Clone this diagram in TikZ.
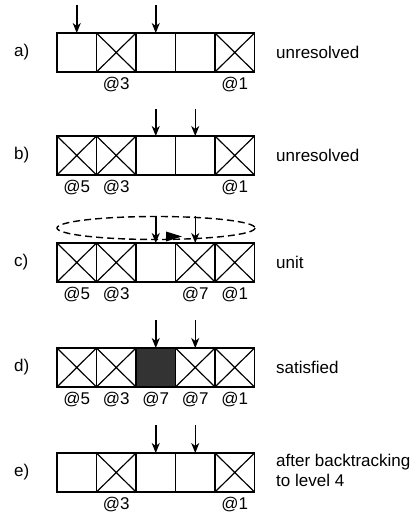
\documentclass[tikz,border=0pt]{standalone}
\usepackage{fontspec}
\setmainfont{Liberation Sans}
\usetikzlibrary{arrows.meta}
\tikzset{
  cell/.style={draw, line width=1.7pt, minimum width=39.5pt, minimum height=39pt, inner sep=0pt, outer sep=0pt},
  xline/.style={line width=1.2pt},
  arr/.style={line width=1.5pt, -{Stealth[length=10pt, width=8pt, inset=3pt]}},
  lbl/.style={font=\fontsize{17}{20}\selectfont, inner sep=0pt},
  darkcell/.style={cell, fill=black!80},
}
\newcommand{\mkrow}[2]{% #1 row name, #2 top y
  \foreach \i/\cx in {1/76.75,2/116.25,3/155.75,4/195.25,5/234.75}{
    \node[cell] (#1\i) at (\cx,#2+19.5) {};
  }
}
\newcommand{\xcell}[1]{\draw[xline] (#1.north west) -- (#1.south east) (#1.north east) -- (#1.south west);}
\begin{document}
\begin{tikzpicture}[x=1pt,y=-1pt]
\useasboundingbox (0,0) rectangle (418,518);
% row a
\mkrow{a}{33}
\xcell{a2}\xcell{a5}
\node[lbl,anchor=west] (la) at (14,52.5) {a)};
\node[lbl,anchor=west] (sa) at (276,52.5) {unresolved};
\node[lbl] (a2l) at (116.25,85) {@3};
\node[lbl] (a5l) at (234.75,85) {@1};
\coordinate (a1t) at (76.75,5);
\coordinate (a3t) at (155.75,5);
\draw[arr] (a1t) -- (a1.north);
\draw[arr] (a3t) -- (a3.north);
% row b
\mkrow{b}{136}
\xcell{b1}\xcell{b2}\xcell{b5}
\node[lbl,anchor=west] (lb) at (14,155.5) {b)};
\node[lbl,anchor=west] (sb) at (276,155.5) {unresolved};
\node[lbl] (b1l) at (76.75,188) {@5};
\node[lbl] (b2l) at (116.25,188) {@3};
\node[lbl] (b5l) at (234.75,188) {@1};
\coordinate (b3t) at (155.75,109);
\coordinate (b4t) at (195.25,109);
\draw[arr] (b3t) -- (b3.north);
\draw[arr] (b4t) -- (b4.north);
% row c
\mkrow{c}{243}
\xcell{c1}\xcell{c2}\xcell{c4}\xcell{c5}
\node[lbl,anchor=west] (lc) at (14,262.5) {c)};
\node[lbl,anchor=west] (sc) at (276,262.5) {unit};
\node[lbl] (c1l) at (76.75,295) {@5};
\node[lbl] (c2l) at (116.25,295) {@3};
\node[lbl] (c4l) at (195.25,295) {@7};
\node[lbl] (c5l) at (234.75,295) {@1};
\draw[line width=1.4pt, dash pattern=on 7pt off 4pt] (156,228) ellipse [x radius=99, y radius=11.5];
\fill (166,231.5) -- (182,236.5) -- (166,241.5) -- cycle;
\coordinate (c3t) at (155.75,216.5);
\coordinate (c4t) at (195.25,216.5);
\draw[arr] (c3t) -- (c3.north);
\draw[arr] (c4t) -- (c4.north);
% row d
\mkrow{d}{348}
\xcell{d1}\xcell{d2}\xcell{d4}\xcell{d5}
\node[darkcell] at (d3) {};
\node[lbl,anchor=west] (ld) at (14,367.5) {d)};
\node[lbl,anchor=west] (sd) at (276,367.5) {satisfied};
\node[lbl] (d1l) at (76.75,400) {@5};
\node[lbl] (d2l) at (116.25,400) {@3};
\node[lbl] (d3l) at (155.75,400) {@7};
\node[lbl] (d4l) at (195.25,400) {@7};
\node[lbl] (d5l) at (234.75,400) {@1};
\coordinate (d3t) at (155.75,320);
\coordinate (d4t) at (195.25,320);
\draw[arr] (d3t) -- (d3.north);
\draw[arr] (d4t) -- (d4.north);
% row e
\mkrow{e}{453}
\xcell{e2}\xcell{e5}
\node[lbl,anchor=west] (le) at (14,472.5) {e)};
\node[lbl,anchor=west,align=left] (se) at (276,470.5) {after backtracking\\to level 4};
\node[lbl] (e2l) at (116.25,505) {@3};
\node[lbl] (e5l) at (234.75,505) {@1};
\coordinate (e3t) at (155.75,425);
\coordinate (e4t) at (195.25,425);
\draw[arr] (e3t) -- (e3.north);
\draw[arr] (e4t) -- (e4.north);
\end{tikzpicture}
\end{document}
